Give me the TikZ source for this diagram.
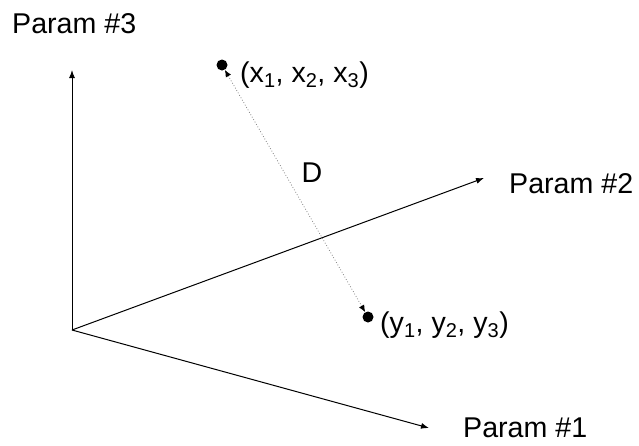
\documentclass[tikz,border=0pt]{standalone}
\usepackage{fontspec}
\setmainfont{Liberation Sans}
\usetikzlibrary{arrows.meta}
\begin{document}
\begin{tikzpicture}[x=1pt,y=-1pt,
  lbl/.style={font=\fontsize{28.6}{34}\selectfont, inner sep=0pt},
  axis/.style={line width=1pt, -{Latex[length=8,width=6]}},
  pt/.style={circle, fill=black, minimum size=11pt, inner sep=0pt},
  dist/.style={gray, dotted, line width=0.8pt, {Latex[length=7,width=6,black]}-{Latex[length=7,width=6,black]}}]
\useasboundingbox (0,0) rectangle (639,445);
\coordinate (o) at (72,330);
\coordinate (a3) at (72,70);
\coordinate (a2) at (484,178);
\coordinate (a1) at (429,428);
\draw[axis] (o) -- (a3);
\draw[axis] (o) -- (a2);
\draw[axis] (o) -- (a1);
\node[lbl, anchor=base west] (l3) at (12,33) {Param \#3};
\node[lbl, anchor=base west] (l2) at (509,193) {Param \#2};
\node[lbl, anchor=base west] (l1) at (463,437) {Param \#1};
\node[pt] (p1) at (222,65) {};
\node[pt] (p2) at (368,317) {};
\draw[dist] (p1) -- (p2);
\node[lbl, anchor=base west] (lx) at (240,82) {(x\textsubscript{1}, x\textsubscript{2}, x\textsubscript{3})};
\node[lbl, anchor=base west] (ly) at (380,332) {(y\textsubscript{1}, y\textsubscript{2}, y\textsubscript{3})};
\node[lbl, anchor=base] (d) at (312,182) {D};
\end{tikzpicture}
\end{document}
